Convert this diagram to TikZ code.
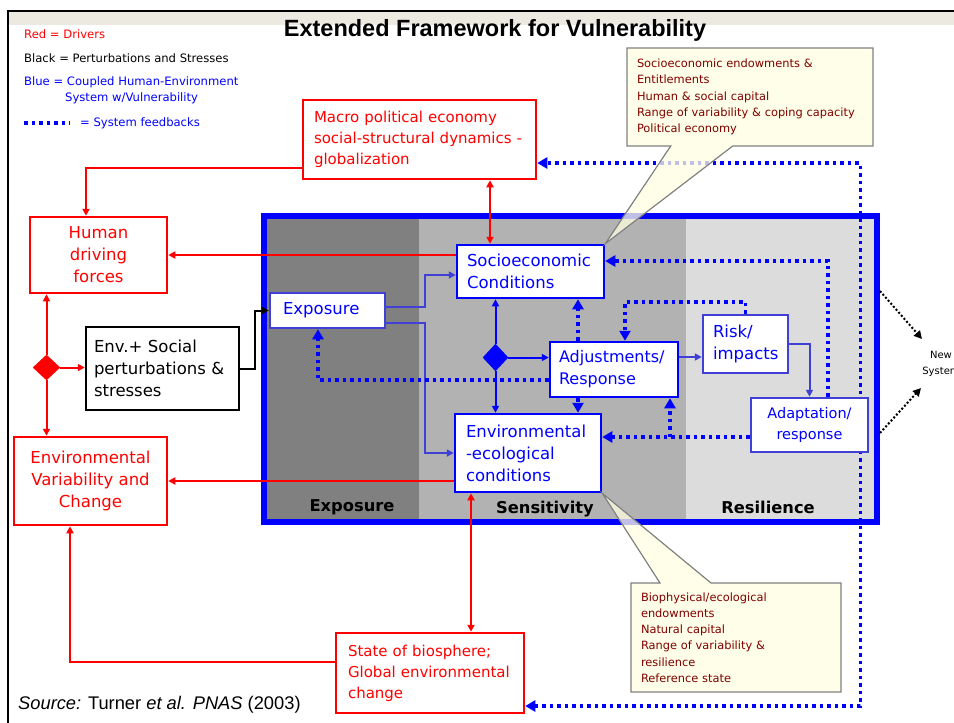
\documentclass[tikz,border=0pt]{standalone}
\usepackage{fontspec}
\setmainfont{DejaVu Sans}
\newfontfamily\arialfont{Liberation Sans}
\usetikzlibrary{arrows.meta,shapes.geometric,shapes.callouts}
\definecolor{drvred}{RGB}{255,0,0}
\definecolor{hblue}{RGB}{0,0,255}
\definecolor{lblue}{RGB}{64,64,215}
\definecolor{expgray}{RGB}{128,128,128}
\definecolor{sengray}{RGB}{178,178,178}
\definecolor{resgray}{RGB}{220,220,220}
\definecolor{noteyel}{RGB}{255,255,225}
\definecolor{notegray}{RGB}{128,128,128}
\definecolor{notetxt}{RGB}{128,0,0}
\definecolor{topstrip}{RGB}{236,234,224}
\newcommand{\blockfont}{\fontsize{16.5}{22}\selectfont}
\newcommand{\macrofont}{\fontsize{15}{21}\selectfont}
\newcommand{\legfont}{\fontsize{11.6}{16}\selectfont}
\newcommand{\notefont}{\fontsize{11.4}{16.2}\selectfont}
\newcommand{\bandfont}{\fontsize{16.3}{19}\selectfont\bfseries}
\newcommand{\titlefont}{\arialfont\bfseries\fontsize{23.5}{28}\selectfont}
\newcommand{\srcfont}{\arialfont\fontsize{18.3}{22}\selectfont}
\begin{document}
\begin{tikzpicture}[x=1pt,y=-1pt,inner sep=0pt,
>={Triangle[length=7pt,width=7pt]},
drvblock/.style={draw=drvred,fill=white,line width=2.5pt,text=drvred,font=\blockfont},
cplblock/.style={draw=hblue,fill=white,line width=2.5pt,text=hblue,font=\blockfont},
perblock/.style={draw=black,fill=white,line width=2.5pt,font=\blockfont},
drvline/.style={draw=drvred,line width=2pt},
perline/.style={draw=black,line width=2pt},
cplline/.style={draw=lblue,line width=2pt},
fbline/.style={draw=hblue,line width=3.5pt,dash pattern=on 3.5pt off 4pt,>={Triangle[length=10pt,width=11pt]}},
nsline/.style={draw=black,line width=2pt,dash pattern=on 2pt off 2pt,>={Triangle[length=8pt,width=8pt]}},
noteblock/.style={rectangle callout,draw=notegray,line width=1.2pt,fill=noteyel,fill opacity=0.75,text opacity=1,text=notetxt,font=\notefont,align=left,inner xsep=8pt}]
\useasboundingbox (0,0) rectangle (954,723);
\fill[topstrip] (9,12) rectangle (954,25);
\draw[line width=2.5pt] (8,723) -- (8,11) -- (954,11);
\draw (495,30) node[font=\titlefont] (title) {Extended Framework for Vulnerability};
\draw (24,34) node[anchor=west,font=\legfont,text=drvred] (lgred) {Red = Drivers};
\draw (24,58) node[anchor=west,font=\legfont] (lgblack) {Black = Perturbations and Stresses};
\draw (24,90) node[anchor=west,font=\legfont,text=hblue,align=left] (lgblue) {Blue = Coupled Human-Environment\\\hspace*{41pt}System w/Vulnerability};
\coordinate (lgfb) at (24,123);
\draw[fbline] (lgfb) -- ++(46,0);
\draw (80,123) node[anchor=west,font=\legfont,text=hblue] (lgfbtext) {= System feedbacks};
\fill[expgray] (267,219) rectangle (419,519);
\fill[sengray] (419,219) rectangle (686,519);
\fill[resgray] (686,219) rectangle (874,519);
\draw (570.5,369) node[draw=hblue,line width=6pt,minimum width=613pt,minimum height=306pt] (vul) {};
\draw (352,507) node[font=\bandfont] (lexp) {Exposure};
\draw (545,509) node[font=\bandfont] (lsen) {Sensitivity};
\draw (768,507) node[font=\bandfont] (lres) {Resilience};
\draw (419.5,139.5) node[drvblock,font=\macrofont,text width=211pt,inner xsep=11pt,minimum height=79pt,align=left] (macro) {Macro political economy\\social-structural dynamics -\\globalization};
\draw (430,673) node[drvblock,font=\macrofont,text width=164pt,inner xsep=12pt,minimum height=80pt,align=left] (state) {State of biosphere;\\Global environmental\\change};
\draw[fbline,<->] ([yshift=-33pt]state.east) -- ++(335,0) |- ([yshift=-23.5pt]macro.east);
\draw (98.5,255) node[drvblock,minimum width=137pt,minimum height=76pt,align=center] (hdf) {Human\\driving\\forces};
\draw (162.5,368.5) node[perblock,text width=137pt,inner xsep=8pt,minimum height=83pt,align=left] (envsoc) {Env.+ Social\\perturbations \&\\stresses};
\draw (90.5,481) node[drvblock,minimum width=153pt,minimum height=88pt,align=center] (envvar) {Environmental\\Variability and\\Change};
\draw (46.5,367.5) node[diamond,draw=drvred,fill=drvred,minimum width=27pt,minimum height=25pt] (rdia) {};
\draw (327.5,310.5) node[cplblock,draw=lblue,text width=89pt,inner xsep=13pt,minimum height=35pt,align=left] (expo) {Exposure};
\draw (530.5,271.5) node[cplblock,text width=127pt,inner xsep=10pt,minimum height=53pt,align=left] (socio) {Socioeconomic\\Conditions};
\draw (614,369.5) node[cplblock,font=\fontsize{16}{22}\selectfont,text width=110pt,inner xsep=9pt,minimum height=55pt,align=left] (adjust) {Adjustments/\\Response};
\draw (528,453) node[cplblock,text width=124pt,inner xsep=11pt,minimum height=78pt,align=left] (enveco) {Environmental\\-ecological\\conditions};
\draw (745.5,344) node[cplblock,draw=lblue,text width=65pt,inner xsep=10pt,minimum height=58pt,align=left] (risk) {Risk/\\impacts};
\draw (809.5,425) node[cplblock,draw=lblue,font=\fontsize{14.5}{21}\selectfont,minimum width=117pt,minimum height=54pt,align=center] (adapt) {Adaptation/\\response};
\draw (495.5,357.5) node[diamond,draw=hblue,fill=hblue,minimum width=25pt,minimum height=27pt] (bdia) {};
\draw (941,364) node[font=\fontsize{10}{16}\selectfont,align=center] (newsys) {New\\System};
\coordinate (ms) at ([xshift=-40.5pt]socio.north);
\coordinate (eb) at ([xshift=-57pt]enveco.south);
\coordinate (ar) at ([yshift=12.5pt]adjust.east);
\coordinate (as) at ([xshift=-36pt]adjust.north);
\coordinate (ab) at ([xshift=-36pt]adjust.south);
\coordinate (aj) at ([xshift=56pt]adjust.south);
\coordinate (aw) at ([yshift=-12pt]adapt.west);
\draw[drvline,<->] (ms) -- (ms |- macro.south);
\draw[drvline,->] ([yshift=-28.5pt]macro.west) -| ([xshift=-12.5pt]hdf.north);
\draw[drvline,->] (socio.west |- hdf.east) -- (hdf.east);
\draw[drvline,->] (enveco.west |- envvar.east) -- (envvar.east);
\draw[drvline,->] ([yshift=11pt]state.west) -| ([xshift=-20.5pt]envvar.south);
\draw[drvline,<->] (eb) -- (eb |- state.north);
\draw[drvline,->] (rdia.north) -- (rdia.north |- hdf.south);
\draw[drvline,->] (rdia.south) -- (rdia.south |- envvar.north);
\draw[drvline,->] (rdia.east) -- (rdia.east -| envsoc.west);
\draw[perline,->] (envsoc.east) -- ++(15,0) |- (expo.west);
\draw[cplline,->] ([yshift=3.5pt]expo.east) -- ++(39,0) |- ([yshift=-3.5pt]socio.west);
\draw[cplline,->] ([yshift=-12pt]expo.east) -- ++(39,0) |- (enveco.west);
\draw[cplline,draw=hblue,->] (bdia.north) -- (bdia.north |- socio.south);
\draw[cplline,draw=hblue,->] (bdia.south) -- (bdia.south |- enveco.north);
\draw[cplline,draw=hblue,->] (bdia.east) -- (bdia.east -| adjust.west);
\draw[cplline,->] (ar) -- (ar -| risk.west);
\draw[cplline,->] (risk.east) -| (adapt.north);
\draw[fbline,->] (as) -- (as |- socio.south);
\draw[fbline,->] (risk.north) -- ++(0,-12) -| ([xshift=11pt]adjust.north);
\draw[fbline,->] ([yshift=-10.5pt]adjust.west) -| ([xshift=-9.5pt]expo.south);
\draw[fbline,->] (ab) -- (ab |- enveco.north);
\draw[fbline,->] (aw) -- (aw -| enveco.east);
\draw[fbline,->] (aj |- aw) -- (aj);
\draw[fbline,->] ([xshift=18.5pt]adapt.north) |- ([yshift=10.5pt]socio.east);
\draw[nsline,->] ([yshift=78pt]vul.east) -- ([shift={(-19,-25)}]newsys.center);
\draw[nsline,->] ([yshift=-64pt]vul.east) -- ([shift={(-20,24)}]newsys.center);
\draw (750,97) node[noteblock,callout absolute pointer={(socio.north east)},callout pointer width=62pt,text width=226pt,minimum width=246pt,minimum height=98pt] (socnote) {Socioeconomic endowments \&\\Entitlements\\Human \& social capital\\Range of variability \& coping capacity\\Political economy};
\draw (736,637.5) node[noteblock,callout absolute pointer={(enveco.south east)},callout pointer width=51pt,text width=190pt,minimum width=210pt,minimum height=109pt] (econote) {Biophysical/ecological\\endowments\\Natural capital\\Range of variability \&\\resilience\\Reference state};
\draw (18,705) node[anchor=west,font=\srcfont] (src) {\textit{Source:} Turner \textit{et al.} \textit{PNAS} (2003)};
\end{tikzpicture}
\end{document}
